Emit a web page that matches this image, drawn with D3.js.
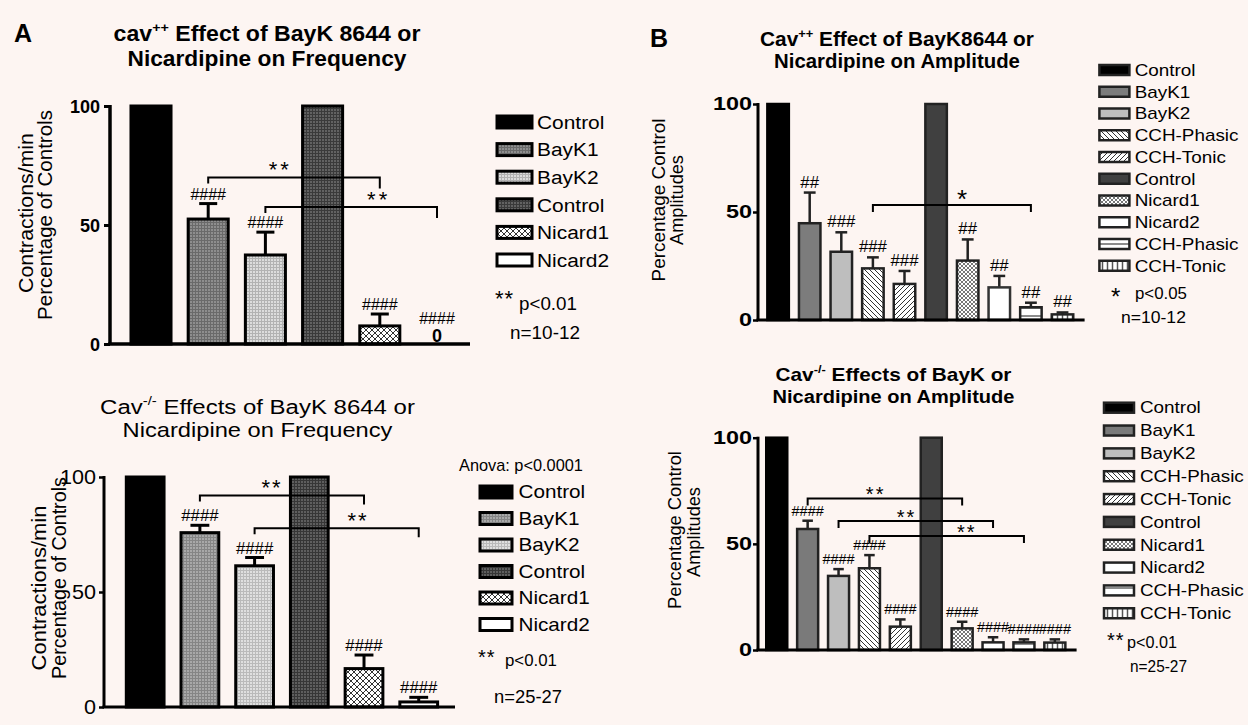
<!DOCTYPE html>
<html><head><meta charset="utf-8">
<script src="https://cdn.jsdelivr.net/npm/d3@7/dist/d3.min.js"></script>
<style>
html,body{margin:0;padding:0;background:#fdf5f2;overflow:hidden}
svg{display:block}
text{font-family:"Liberation Sans",Arial,Helvetica,sans-serif}
</style></head><body>
<svg id="chart" width="1248" height="725"></svg>
<script>
// ---------------- DATA ----------------
const freqCategories = ["Control","BayK1","BayK2","Control","Nicard1","Nicard2"];
const ampCategories  = ["Control","BayK1","BayK2","CCH-Phasic","CCH-Tonic","Control","Nicard1","Nicard2","CCH-Phasic","CCH-Tonic"];
const yTicks = [0,50,100];

// A top: cav++ frequency
const freqWtMean = [100,52.5,37.4,100,7.6,0];
const freqWtSem  = [0,6.5,9.6,0,5.0,0];
const freqWtSig  = ["","####","####","","####","####"];
const freqWtBrackets = [[1,4,70],[2,5,57.6]];

// A bottom: Cav-/- frequency
const freqKoMean = [100,75.8,61.4,100,16.7,2.2];
const freqKoSem  = [0,3.2,3.6,0,5.9,2.0];
const freqKoSig  = ["","####","####","","####","####"];
const freqKoBrackets = [[1,4,92],[2,5,77.7]];

// B top: Cav++ amplitude
const ampWtMean = [100,44.8,31.6,23.9,16.7,100,27.5,15.1,5.9,2.6];
const ampWtSem  = [0,14.2,9.0,5.1,6.0,0,9.8,5.3,2.1,0.9];
const ampWtSig  = ["","##","###","###","###","","##","##","##","##"];
const ampWtBrackets = [[3,8,53.2]];

// B bottom: Cav-/- amplitude
const ampKoMean = [100,57,34.9,38.5,11,100,10.2,3.6,3.6,3.5];
const ampKoSem  = [0,3.9,3.2,6.2,3.4,0,3.1,2.4,1.4,1.5];
const ampKoSig  = ["","####","####","####","####","","####","####","####","####"];
const ampKoBrackets = [[1,6,71.4],[2,7,60.8],[3,8,53.7]];

// ---------------- SETUP ----------------
const svg = d3.select("#chart");
svg.append("rect").attr("width",1248).attr("height",725).attr("fill","#fdf5f2");
const defs = svg.append("defs");
function pat(id,s,bg,d,c,w){
  const p = defs.append("pattern").attr("id",id).attr("patternUnits","userSpaceOnUse").attr("width",s).attr("height",s);
  p.append("rect").attr("width",s).attr("height",s).attr("fill",bg);
  if(d) p.append("path").attr("d",d).attr("stroke",c).attr("stroke-width",w).attr("fill","none");
}
pat("gA1",3,"#8e8e8e","M0,0.5H3M0.5,0V3","#6a6a6a",1);
pat("gA2",3,"#dcdcdc","M0,0.5H3M0.5,0V3","#b2b2b2",1);
pat("gA3",3,"#626262","M0,0.5H3M0.5,0V3","#3a3a3a",1);
pat("xA",6,"#ffffff","M0,0L6,6M6,0L0,6","#333",1);
pat("gB1",3,"#a8a8a8","M0,0.5H3M0.5,0V3","#858585",1);
pat("gB2",3,"#dfdfdf","M0,0.5H3M0.5,0V3","#bababa",1);
pat("gB3",3,"#5e5e5e","M0,0.5H3M0.5,0V3","#363636",1);
pat("dPh",5,"#ffffff","M0,0L5,5M-1,4L1,6M4,-1L6,1","#333",1);
pat("dTo",5,"#ffffff","M0,5L5,0M-1,1L1,-1M4,6L6,4","#333",1);
pat("xN",4,"#ffffff","M0,0L4,4M4,0L0,4","#777",1);
pat("hPh",8,"#ffffff","M0,4H8","#666",1.5);
pat("vTo",5,"#ffffff","M2.5,0V5","#555",1.5);

function txt(g,x,y,segs,o){
  if(typeof segs==="string") segs=[[segs]];
  const t = g.append("text").attr("font-size",o.size)
    .attr("font-weight",o.bold?"bold":"normal")
    .attr("text-anchor",o.anchor||"start").attr("fill","#000");
  if(o.ls) t.attr("letter-spacing",o.ls);
  let shift=0;
  segs.forEach(s=>{
    const sp=t.append("tspan").text(s[0]);
    if(s[1]){ sp.attr("font-size",o.size*0.62).attr("dy",-o.size*0.42); shift=o.size*0.42; }
    else if(shift){ sp.attr("dy",shift); shift=0; }
  });
  let sx=o.sx||1;
  if(o.w){ const L=t.node().getComputedTextLength(); if(L>0) sx=o.w/L; }
  t.attr("transform",`translate(${x},${y})`+(o.rot?` rotate(${o.rot})`:"")+` scale(${sx},1)`);
  return t;
}

function drawPanel(P){
  const g = svg.append("g");
  const n = P.cats.length;
  const x = d3.scaleBand().domain(d3.range(n)).range(P.range).paddingInner(P.pI).paddingOuter(P.pO);
  const y = d3.scaleLinear().domain([0,100]).range([P.y0,P.y100]);
  const bw = x.bandwidth(), cx = i=>x(i)+bw/2;

  P.title.forEach((segs,k)=>txt(g,P.titleX,P.titleY[k],segs,{size:P.titleSize,bold:P.titleBold,anchor:"middle",w:P.titleW[k]}));
  P.ylab.forEach((s,k)=>txt(g,P.ylabX[k],P.ylabY[k],s,{size:P.ylabSize,anchor:"middle",rot:-90,w:P.ylabW[k]}));

  // error bars
  const eb = g.append("g").attr("stroke",P.errColor).attr("stroke-width",P.errW).attr("fill","none");
  d3.range(n).filter(i=>P.sem[i]>0).forEach(i=>{
    const t = y(P.mean[i]+P.sem[i]);
    eb.append("line").attr("x1",cx(i)).attr("x2",cx(i)).attr("y1",y(P.mean[i])).attr("y2",t);
    eb.append("line").attr("x1",cx(i)-bw*P.cap/2).attr("x2",cx(i)+bw*P.cap/2).attr("y1",t).attr("y2",t);
  });

  // bars
  g.append("g").selectAll("rect").data(d3.range(n).filter(i=>P.mean[i]>0)).join("rect")
    .attr("x",i=>x(i)).attr("width",bw)
    .attr("y",i=>y(P.mean[i])).attr("height",i=>y(0)-y(P.mean[i]))
    .attr("fill",i=>P.fills[i]).attr("stroke",i=>P.strokes[i]).attr("stroke-width",P.barW);

  // axes
  const ax = g.append("g").attr("transform",`translate(${P.axisX},0)`)
    .call(d3.axisLeft(y).tickValues(yTicks).tickSize(P.tickSize).tickPadding(P.tickPad));
  ax.select(".domain").remove();
  ax.selectAll(".tick line").attr("stroke","#000").attr("stroke-width",P.tickW);
  ax.selectAll(".tick text").attr("fill","#000").attr("font-size",P.tickFont)
    .attr("font-weight",P.tickBold?"bold":"normal")
    .attr("x",-(P.tickSize+P.tickPad)/P.tickSx).attr("transform",`scale(${P.tickSx},1)`);
  g.append("line").attr("x1",P.axisX).attr("x2",P.axisX).attr("y1",y(100)-1).attr("y2",y(0))
    .attr("stroke","#000").attr("stroke-width",P.axisW);
  g.append("line").attr("x1",P.axisX-P.axisW/2).attr("x2",P.axisEnd).attr("y1",y(0)).attr("y2",y(0))
    .attr("stroke","#000").attr("stroke-width",P.axisW);

  // significance labels
  d3.range(n).filter(i=>P.sig[i]).forEach(i=>{
    let yy = y(P.mean[i]+P.sem[i]) - P.sigGap;
    if(P.mean[i]===0){
      txt(g,cx(i),y(0)-2,"0",{size:P.sigSize+2,bold:true,anchor:"middle"});
      yy = y(0)-P.zeroGap;
    }
    txt(g,cx(i),yy,P.sig[i],{size:P.sigSize,anchor:"middle",sx:P.sigSx});
  });

  // brackets
  P.br.forEach((b,k)=>{
    const x1=cx(b[0]), x2=cx(b[1]), yy=y(b[2]);
    g.append("path").attr("d",`M${x1},${yy+P.brTicks[0]}V${yy}H${x2}V${yy+P.brTicks[1]}`)
      .attr("fill","none").attr("stroke","#000").attr("stroke-width",P.brW);
    txt(g,x1+(x2-x1)*P.starFrac[k],yy+P.starDy,P.star,{size:P.starSize,anchor:"middle",ls:P.starLs});
  });

  // legend
  const L = P.leg;
  P.cats.forEach((c,i)=>{
    const yy = L.y+i*L.step;
    g.append("rect").attr("x",L.x).attr("y",yy-L.h/2).attr("width",L.w).attr("height",L.h)
      .attr("fill",P.fills[i]).attr("stroke",L.stroke).attr("stroke-width",L.sw);
    txt(g,L.tx,yy+L.size*0.36,c,{size:L.size,sx:L.sx});
  });
  P.notes.forEach(nt=>txt(g,nt.x,nt.y,nt.t,{size:nt.size,bold:nt.bold,w:nt.w,ls:nt.ls}));
}

// ---------------- PANELS ----------------
drawPanel({
  cats:freqCategories, mean:freqWtMean, sem:freqWtSem, sig:freqWtSig, br:freqWtBrackets, star:"**",
  title:[[["cav"],["++",1],[" Effect of BayK 8644 or"]],[["Nicardipine on Frequency"]]],
  titleX:267, titleY:[41,66], titleSize:22, titleBold:true, titleW:[307,279],
  ylab:["Contractions/min","Percentage of Controls"], ylabX:[33,52], ylabY:[213,215], ylabSize:20, ylabW:[160,210],
  axisX:110, axisEnd:470, y0:344, y100:106, range:[122.4,465.6], pI:0.3, pO:0.15,
  tickSize:6, tickPad:4, tickFont:19, tickBold:true, tickSx:0.95, tickW:3, axisW:3.5,
  fills:["#000","url(#gA1)","url(#gA2)","url(#gA3)","url(#xA)","#fff"],
  strokes:["#000","#000","#000","#000","#000","#000"], barW:3,
  errColor:"#000", errW:3, cap:0.45,
  sigSize:16, sigSx:1, sigGap:4, zeroGap:20,
  brTicks:[6,11], brW:2, starFrac:[0.42,0.66], starSize:22, starDy:0, starLs:3,
  leg:{x:497,y:122,step:27.6,w:35,h:12,tx:537,size:19,sx:1.1,stroke:"#000",sw:3},
  notes:[
    {t:"A",x:14,y:42,size:25,bold:true},
    {t:"**",x:495,y:306,size:22,ls:1},
    {t:"p<0.01",x:519,y:310,size:18,w:58},
    {t:"n=10-12",x:510,y:339,size:18,w:70}
  ]
});

drawPanel({
  cats:freqCategories, mean:freqKoMean, sem:freqKoSem, sig:freqKoSig, br:freqKoBrackets, star:"**",
  title:[[["Cav"],["-/-",1],[" Effects of BayK 8644 or"]],[["Nicardipine on Frequency"]]],
  titleX:257.5, titleY:[414,437], titleSize:21, titleBold:false, titleW:[315,270],
  ylab:["Contractions/min","Percentage of Controls"], ylabX:[46,66], ylabY:[588,578], ylabSize:20, ylabW:[165,202],
  axisX:104, axisEnd:455, y0:707, y100:477, range:[118.1,445.8], pI:0.31, pO:0.15,
  tickSize:5, tickPad:3, tickFont:20, tickBold:false, tickSx:1.08, tickW:2.5, axisW:3,
  fills:["#000","url(#gB1)","url(#gB2)","url(#gB3)","url(#xA)","#fff"],
  strokes:["#000","#000","#000","#000","#000","#000"], barW:3,
  errColor:"#000", errW:3, cap:0.5,
  sigSize:16, sigSx:1.05, sigGap:4, zeroGap:20,
  brTicks:[6,9], brW:2, starFrac:[0.44,0.63], starSize:22, starDy:0, starLs:2,
  leg:{x:480,y:492,step:26.5,w:32,h:12,tx:518.5,size:18,sx:1.15,stroke:"#000",sw:3},
  notes:[
    {t:"Anova: p<0.0001",x:459,y:471,size:16,w:124},
    {t:"**",x:478,y:664,size:20,ls:1},
    {t:"p<0.01",x:505,y:666,size:17,w:52},
    {t:"n=25-27",x:494,y:703,size:18,w:68}
  ]
});

drawPanel({
  cats:ampCategories, mean:ampWtMean, sem:ampWtSem, sig:ampWtSig, br:ampWtBrackets, star:"*",
  title:[[["Cav"],["++",1],[" Effect of BayK8644 or"]],[["Nicardipine on Amplitude"]]],
  titleX:897, titleY:[46,68], titleSize:20, titleBold:true, titleW:[274,246],
  ylab:["Percentage Control","Amplitudes"], ylabX:[665,683], ylabY:[200,200], ylabSize:18, ylabW:[163,90],
  axisX:758, axisEnd:1084.6, y0:320, y100:104, range:[762.3,1078.3], pI:0.32, pO:0.16,
  tickSize:5, tickPad:1, tickFont:18, tickBold:true, tickSx:1.3, tickW:2.5, axisW:3,
  fills:["#000","#7c7c7c","#bebebe","url(#dPh)","url(#dTo)","#404040","url(#xN)","#fff","url(#hPh)","url(#vTo)"],
  strokes:["#000","#222","#222","#222","#222","#222","#222","#333","#222","#222"], barW:2.5,
  errColor:"#222", errW:2.5, cap:0.55,
  sigSize:16, sigSx:1.05, sigGap:5, zeroGap:20,
  brTicks:[7,7], brW:2, starFrac:[0.565], starSize:26, starDy:3, starLs:0,
  leg:{x:1099.4,y:70,step:21.75,w:30,h:10,tx:1134.7,size:16,sx:1.18,stroke:"#222",sw:2.5},
  notes:[
    {t:"B",x:650,y:47,size:25,bold:true},
    {t:"*",x:1111,y:305,size:24},
    {t:"p<0.05",x:1135,y:299,size:17,w:52},
    {t:"n=10-12",x:1121,y:323,size:17,w:65}
  ]
});

drawPanel({
  cats:ampCategories, mean:ampKoMean, sem:ampKoSem, sig:ampKoSig, br:ampKoBrackets, star:"**",
  title:[[["Cav"],["-/-",1],[" Effects of BayK or"]],[["Nicardipine on Amplitude"]]],
  titleX:893.5, titleY:[381,403], titleSize:19, titleBold:true, titleW:[236,242],
  ylab:["Percentage Control","Amplitudes"], ylabX:[681,700], ylabY:[530,532], ylabSize:18, ylabW:[158,90],
  axisX:758, axisEnd:1076.6, y0:650, y100:437.7, range:[761.3,1070.3], pI:0.32, pO:0.16,
  tickSize:5, tickPad:1, tickFont:18, tickBold:true, tickSx:1.3, tickW:2.5, axisW:3,
  fills:["#000","#7a7a7a","#bebebe","url(#dPh)","url(#dTo)","#404040","url(#xN)","#fff","url(#hPh)","url(#vTo)"],
  strokes:["#000","#222","#222","#222","#222","#222","#222","#222","#222","#222"], barW:2.5,
  errColor:"#222", errW:2.5, cap:0.5,
  sigSize:14.5, sigSx:1.0, sigGap:5, zeroGap:20,
  brTicks:[7,7], brW:2, starFrac:[0.44,0.44,0.63], starSize:20, starDy:3, starLs:2,
  leg:{x:1104,y:407.7,step:22.84,w:30,h:10,tx:1140,size:16,sx:1.18,stroke:"#222",sw:2.5},
  notes:[
    {t:"**",x:1107,y:647,size:20,ls:1},
    {t:"p<0.01",x:1127,y:648,size:17,w:50},
    {t:"n=25-27",x:1130,y:672,size:17,w:57}
  ]
});
</script>
</body></html>
